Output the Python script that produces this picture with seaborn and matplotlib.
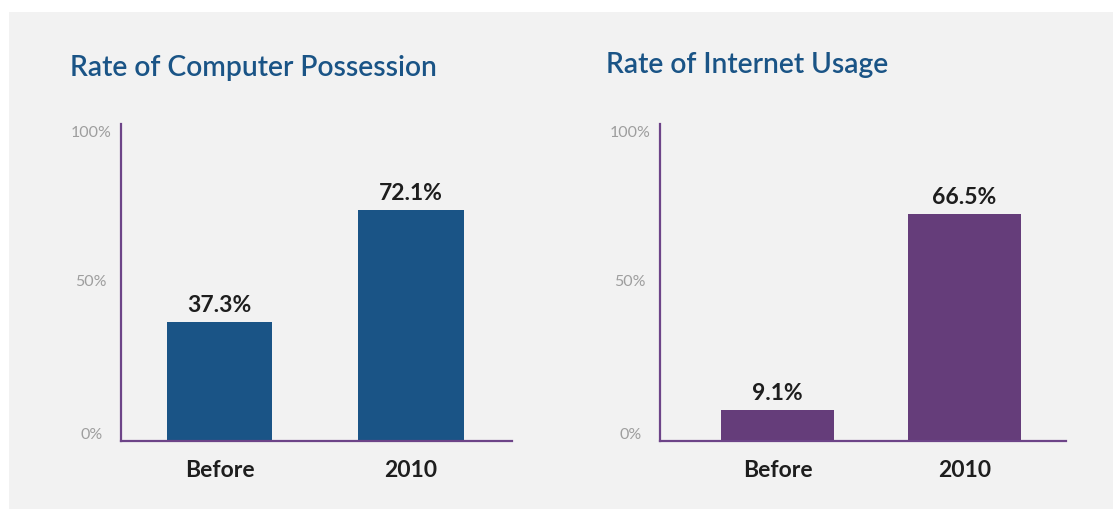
import numpy as np
import pandas as pd
import matplotlib
matplotlib.use("Agg")
import matplotlib.pyplot as plt
from matplotlib.patches import Rectangle
import seaborn as sns

# data
categories = ["Before", "2010"]
computer_rate = [37.3, 72.1]
internet_rate = [9.1, 66.5]
titles = ["Rate of Computer Possession", "Rate of Internet Usage"]
tick_labels = ["0%", "50%", "100%"]

sns.set_theme(style="white")
plt.rcParams["font.family"] = ["Lato", "DejaVu Sans"]

panel_bg = "#f2f2f2"
spine_col = "#6d4488"
title_col = "#1a5486"
text_col = "#1e1e1e"

fig = plt.figure(figsize=(11.13, 5.10), dpi=100, facecolor="white")
fig.patches.append(Rectangle((9 / 1113, 0), 1104 / 1113, 497 / 510,
                             transform=fig.transFigure, facecolor=panel_bg,
                             edgecolor="none", zorder=-10))

W, H = 1113, 510
# (left px, right px, bar width, xlim, ymax, colour, title pos)
panels = [
    dict(vals=computer_rate, x0=121, x1=512, bw=0.55, xlim=(-0.514, 1.527), ymax=99.0,
         color="#1a5486", title=titles[0], tx=70, ty=76),
    dict(vals=internet_rate, x0=660, x1=1066, bw=0.60, xlim=(-0.628, 1.543), ymax=92.7,
         color="#653d7a", title=titles[1], tx=606, ty=73),
]

for p in panels:
    ax = fig.add_axes([p["x0"] / W, 68 / H, (p["x1"] - p["x0"]) / W, 317 / H])
    ax.set_facecolor("none")
    ax.set_zorder(5)
    df = pd.DataFrame({"period": categories, "rate": p["vals"]})
    sns.barplot(data=df, x="period", y="rate", color=p["color"], width=p["bw"],
                saturation=1, linewidth=0, ax=ax)
    ax.set_xlim(*p["xlim"])
    ax.set_ylim(0, p["ymax"])
    for i, v in enumerate(p["vals"]):
        ax.annotate(f"{v}%", (i, v), xytext=(0, 5), textcoords="offset points",
                    ha="center", va="bottom", fontsize=16.5, color=text_col,
                    fontweight="bold")
    ax.set_yticks(np.array([0.028, 0.511, 0.981]) * p["ymax"])
    ax.set_yticklabels(tick_labels, fontsize=11.5, color="#9e9e9e")
    for lab in ax.get_yticklabels():
        lab.set_horizontalalignment("center")
    ax.tick_params(axis="y", length=0, pad=21.5)
    ax.tick_params(axis="x", length=0, pad=13)
    for lab in ax.get_xticklabels():
        lab.set_fontsize(16.5)
        lab.set_fontweight("bold")
        lab.set_color(text_col)
    ax.set_xlabel("")
    ax.set_ylabel("")
    for s in ["top", "right"]:
        ax.spines[s].set_visible(False)
    for s in ["left", "bottom"]:
        ax.spines[s].set_color(spine_col)
        ax.spines[s].set_linewidth(1.6)
    fig.text(p["tx"] / W, 1 - p["ty"] / H, p["title"], fontsize=20.3, color=title_col,
             fontweight="semibold", va="baseline", ha="left")

fig.savefig("out.png", dpi=100, facecolor="white")
